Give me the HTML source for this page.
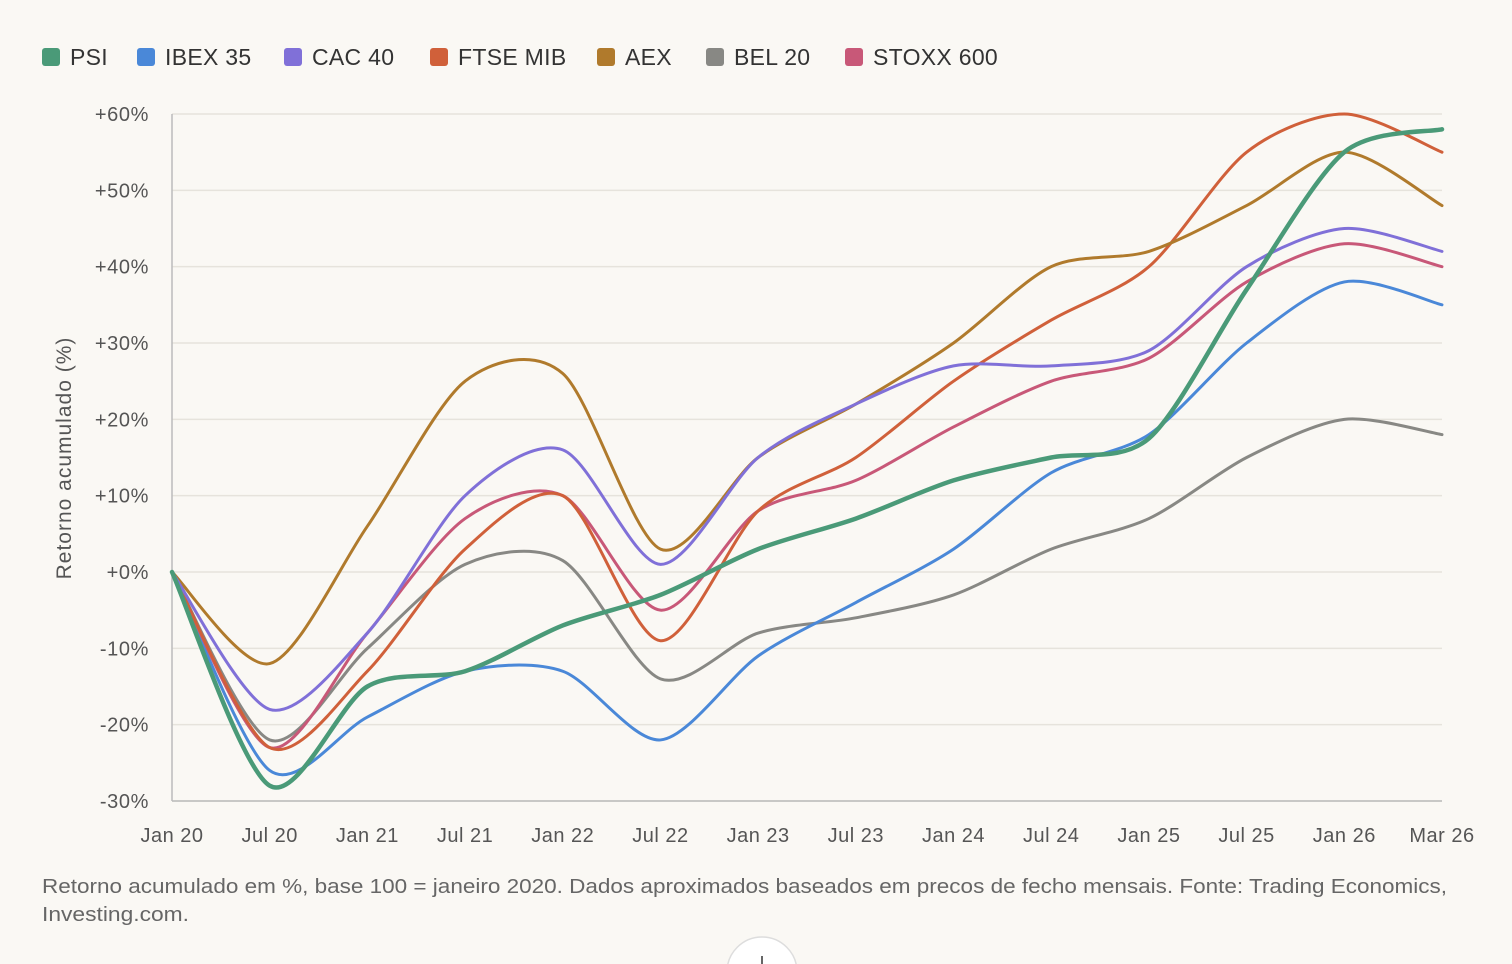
<!DOCTYPE html>
<html><head><meta charset="utf-8"><style>
body{margin:0;background:#faf8f4;font-family:"Liberation Sans",sans-serif;}
#wrap{position:relative;width:1512px;height:964px;overflow:hidden;}
</style></head><body>
<div id="wrap">
<svg id="chart" width="1512" height="964"></svg>
</div>
<script>
const categories=["Jan 20","Jul 20","Jan 21","Jul 21","Jan 22","Jul 22","Jan 23","Jul 23","Jan 24","Jul 24","Jan 25","Jul 25","Jan 26","Mar 26"];
const yTicks=[60,50,40,30,20,10,0,-10,-20,-30];
const seriesNames=["PSI","IBEX 35","CAC 40","FTSE MIB","AEX","BEL 20","STOXX 600"];
const seriesColors=["#4a9a78","#4a88d8","#8070d8","#d0603a","#b07a2c","#888884","#c85878"];
const psi=[0,-28,-15,-13,-7,-3,3,7,12,15,17.5,37,55,58];
const ibex=[0,-26,-19,-13,-13,-22,-11,-4,3,13,18,30,38,35];
const cac=[0,-18,-8,10,16,1,15,22,27,27,29,40,45,42];
const ftse=[0,-23,-13,3,10,-9,8,15,25,33,40,55,60,55];
const aex=[0,-12,6,25,26,3,15,22,30,40,42,48,55,48];
const bel=[0,-22,-10,1,1.5,-14,-8,-6,-3,3,7,15,20,18];
const stoxx=[0,-23,-8,7,10,-5,8,12,19,25,28,38,43,40];
const seriesData=[psi,ibex,cac,ftse,aex,bel,stoxx];

const NS="http://www.w3.org/2000/svg";
const svg=document.getElementById('chart');
const X0=172,X1=1442,Y0=801,Y1=114,VMIN=-30,VMAX=60;
const xs=i=>X0+(X1-X0)*i/(categories.length-1);
const ys=v=>Y0-(v-VMIN)/(VMAX-VMIN)*(Y0-Y1);
function mk(tag,attrs,parent){const e=document.createElementNS(NS,tag);for(const k in attrs)e.setAttribute(k,attrs[k]);(parent||svg).appendChild(e);return e;}

// legend
const legendX=[42,137,284,430,597,706,845];
seriesNames.forEach((n,i)=>{
  const lx=legendX[i];
  const g=mk('g',{});
  
  
  mk('rect',{x:lx,y:48,width:18,height:18,rx:3,fill:seriesColors[i]},g);
  const t=mk('text',{x:lx+28,y:65,'font-size':23,fill:'#333','letter-spacing':0.3},g);
  t.textContent=n;
});

// grid + y ticks
yTicks.forEach(v=>{
  const l=mk('line',{x1:X0,x2:X1,y1:ys(v),y2:ys(v),stroke:'#e6e3dc','stroke-width':1.5});
  
  
  const t=mk('text',{x:149,y:ys(v)+7,'font-size':20,fill:'#555','text-anchor':'end','letter-spacing':0.6});
  
  
  t.textContent=(v>=0?'+':'')+v+'%';
});
mk('line',{x1:X0,x2:X0,y1:Y1,y2:Y0,stroke:'#bbb','stroke-width':1.5});
mk('line',{x1:X0,x2:X1,y1:Y0,y2:Y0,stroke:'#bbb','stroke-width':1.5});
categories.forEach((c,i)=>{
  const t=mk('text',{x:xs(i),y:842,'font-size':20,fill:'#555','text-anchor':'middle','letter-spacing':0.5});
  
  
  t.textContent=c;
});
const yt=mk('text',{x:0,y:0,'font-size':21,fill:'#555','text-anchor':'middle','letter-spacing':1,transform:'translate(71,458) rotate(-90)'});


yt.textContent='Retorno acumulado (%)';

// catmull-rom path
function crPath(pts){
  const n=pts.length;
  let p='M'+pts[0][0]+','+pts[0][1];
  for(let i=0;i<n-1;i++){
    const p0=pts[Math.max(0,i-1)],p1=pts[i],p2=pts[i+1],p3=pts[Math.min(n-1,i+2)];
    const t=7;
    const c1x=p1[0]+(p2[0]-p0[0])/t,c1y=p1[1]+(p2[1]-p0[1])/t;
    const c2x=p2[0]-(p3[0]-p1[0])/t,c2y=p2[1]-(p3[1]-p1[1])/t;
    p+=' C'+c1x+','+c1y+' '+c2x+','+c2y+' '+p2[0]+','+p2[1];
  }
  return p;
}
const order=[5,1,6,3,4,2,0];
order.forEach(si=>{
  const pts=seriesData[si].map((v,i)=>[xs(i),ys(v)]);
  const p=mk('path',{d:crPath(pts),fill:'none',stroke:seriesColors[si],'stroke-width':si==0?4.5:3,'stroke-linejoin':'round','stroke-linecap':'round'});
  
  
});

// footnote
const f1=mk('text',{x:42,y:893,'font-size':20,fill:'#666',textLength:1405,lengthAdjust:'spacingAndGlyphs'});


f1.textContent='Retorno acumulado em %, base 100 = janeiro 2020. Dados aproximados baseados em precos de fecho mensais. Fonte: Trading Economics,';
const f2=mk('text',{x:42,y:921,'font-size':20,fill:'#666',textLength:147,lengthAdjust:'spacingAndGlyphs'});


f2.textContent='Investing.com.';
const btn=mk('circle',{cx:762,cy:972,r:35,fill:'#fff',stroke:'#ddd','stroke-width':1.5});


mk('line',{x1:762,x2:762,y1:956,y2:964,stroke:'#333','stroke-width':1.5});
</script>
</body></html>
